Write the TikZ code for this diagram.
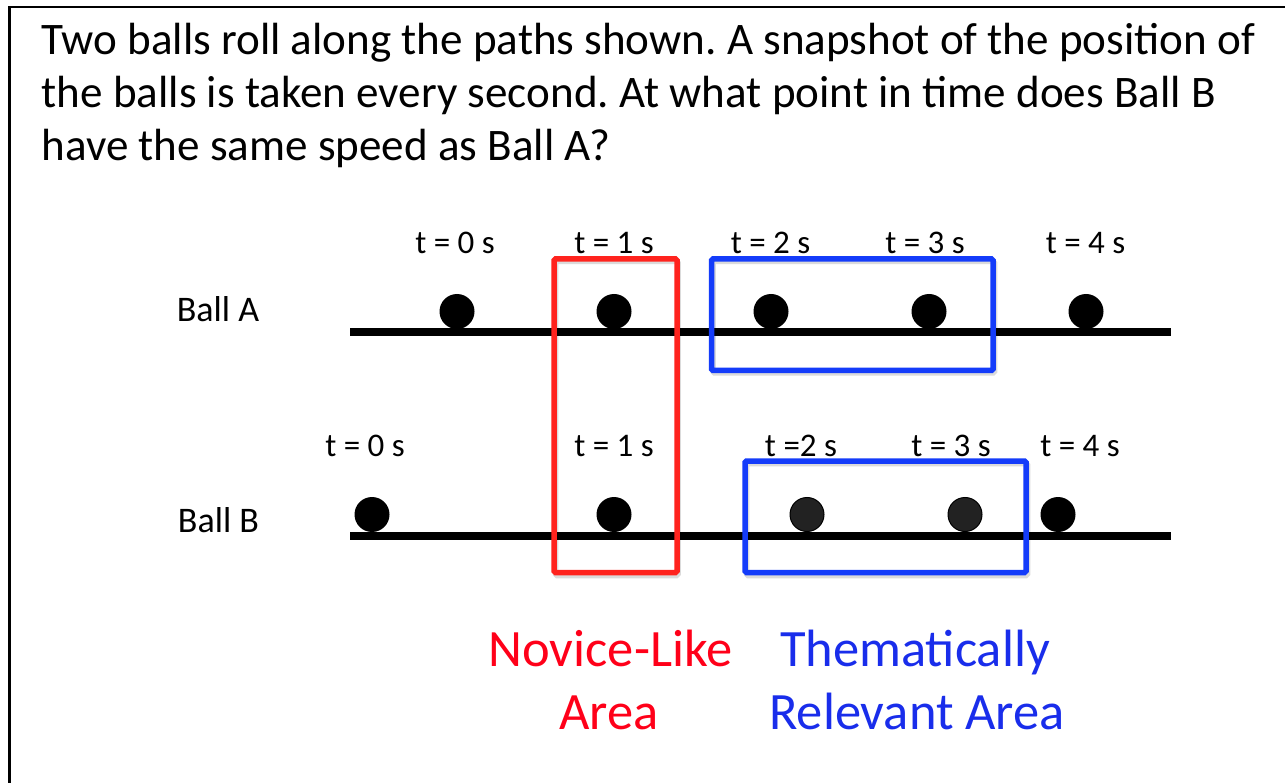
\documentclass[tikz,border=0pt]{standalone}
\usepackage{fontspec}
\setmainfont{Carlito}
\frenchspacing
\definecolor{redbox}{RGB}{255,35,30}
\definecolor{bluebox}{RGB}{20,60,250}
\definecolor{redtext}{RGB}{255,0,25}
\definecolor{bluetext}{RGB}{25,45,235}
\definecolor{ballgray}{RGB}{34,34,34}
\begin{document}
\begin{tikzpicture}[x=1pt,y=-1pt,
  titletext/.style={anchor=base west,inner sep=0pt,font=\fontsize{45.1}{52}\selectfont},
  timelabel/.style={anchor=base,inner sep=0pt,font=\fontsize{33}{40}\selectfont},
  balllabel/.style={anchor=base,inner sep=0pt,font=\fontsize{36}{42}\selectfont},
  arealabel/.style={anchor=base,inner sep=0pt,font=\fontsize{52.5}{60}\selectfont},
  ball/.style={circle,fill=black,inner sep=0pt,minimum size=35pt},
  grayball/.style={circle,fill=ballgray,draw=black,line width=1pt,inner sep=0pt,minimum size=34pt},
  track/.style={line width=8pt},
  areabox/.style={line width=5.5pt,rounded corners=1.5pt},
  boxshadow/.style={line width=5.5pt,rounded corners=1.5pt,draw=black!40,opacity=0.35}]
\useasboundingbox (0,0) rectangle (1285,783);
\clip (0,0) rectangle (1285,783);
\fill[white] (0,0) rectangle (1285,783);
% frame
\coordinate (fbl) at (9.5,800);
\coordinate (ftl) at (9.5,7);
\coordinate (ftr) at (1300,7);
\draw[line width=2.5pt] (fbl) -- (ftl) -- (ftr);
% title
\node[titletext] (q1) at (41.5,55) {Two balls roll along the paths shown. A snapshot of the position of};
\node[titletext] (q2) at (41.5,108) {the balls is taken every second. At what point in time does Ball B};
\node[titletext] (q3) at (41.5,160.5) {have the same speed as Ball A?};
% boxes (shadows first)
\draw[boxshadow] (555.5,261.5) rectangle (678,575.5);
\draw[boxshadow] (713,261.5) rectangle (994.5,373);
\draw[boxshadow] (746.5,463.5) rectangle (1027.5,575.5);
% tracks
\coordinate (a0) at (350,332);
\coordinate (a1) at (1171,332);
\coordinate (b0) at (350,535.5);
\coordinate (b1) at (1171,535.5);
\draw[track] (a0) -- (a1);
\draw[track] (b0) -- (b1);
% Ball A
\node[balllabel] (la) at (218,322) {Ball A};
\node[ball] (A0) at (457,311.5) {};
\node[ball] (A1) at (614,311.5) {};
\node[ball] (A2) at (771,311.5) {};
\node[ball] (A3) at (929,311.5) {};
\node[ball] (A4) at (1086,311.5) {};
\node[timelabel] (tA0) at (455,254) {t = 0 s};
\node[timelabel] (tA1) at (614,254) {t = 1 s};
\node[timelabel] (tA2) at (770.5,254) {t = 2 s};
\node[timelabel] (tA3) at (925,254) {t = 3 s};
\node[timelabel] (tA4) at (1085.5,254) {t = 4 s};
% Ball B
\node[balllabel] (lb) at (218.5,532) {Ball B};
\node[ball] (B0) at (372,514.5) {};
\node[ball] (B1) at (614,514.5) {};
\node[grayball] (B2) at (807,514.5) {};
\node[grayball] (B3) at (965,514.5) {};
\node[ball] (B4) at (1058,514.5) {};
\node[timelabel] (tB0) at (365,456.5) {t = 0 s};
\node[timelabel] (tB1) at (614,456.5) {t = 1 s};
\node[timelabel] (tB2) at (801,456.5) {t =2 s};
\node[timelabel] (tB3) at (951,456.5) {t = 3 s};
\node[timelabel] (tB4) at (1080,456.5) {t = 4 s};
% area boxes
\draw[areabox,draw=redbox] (554,259) rectangle (677,572.5);
\draw[areabox,draw=bluebox] (711.5,259) rectangle (993,370.5);
\draw[areabox,draw=bluebox] (745,461) rectangle (1026,572.5);
% area labels
\node[arealabel,text=redtext] (n1) at (610.5,666) {Novice-Like};
\node[arealabel,text=redtext] (n2) at (609,729) {Area};
\node[arealabel,text=bluetext] (r1) at (915,666) {Thematically};
\node[arealabel,text=bluetext] (r2) at (917,729) {Relevant Area};
\end{tikzpicture}
\end{document}
